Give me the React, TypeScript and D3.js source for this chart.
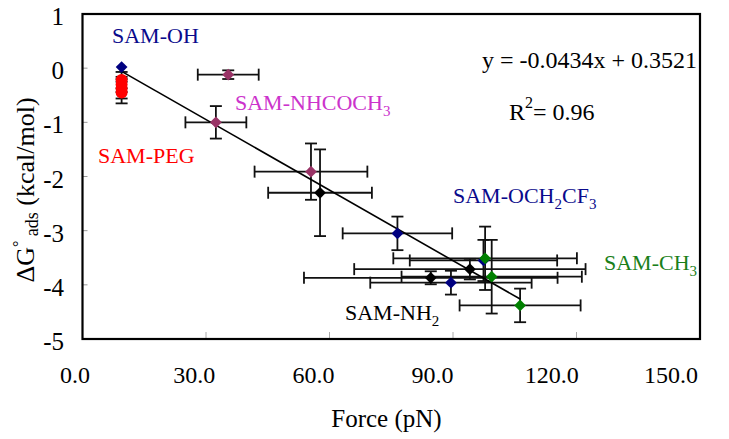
import React from 'react';
import * as d3 from 'd3';

const W = 729;
const H = 439;

const xTickValues = [0, 30, 60, 90, 120, 150];
const yTickValues = [1, 0, -1, -2, -3, -4, -5];

// SAM-OH
const ohX = [9.5];
const ohY = [0.02];
const ohXErr = [0];
const ohYErr = [0];

// SAM-PEG
const pegX = [9.5, 9.5, 9.5, 9.5];
const pegY = [-0.22, -0.3, -0.38, -0.45];
const pegXErr = [0, 0, 0, 0];
const pegYErr = [0.15, 0.14, 0.18, 0.2];

// SAM-NHCOCH3
const nhcoX = [35.4, 32.4, 55.5];
const nhcoY = [-0.12, -1.0, -1.91];
const nhcoXErr = [7.4, 7.4, 13.7];
const nhcoYErr = [0.08, 0.3, 0.52];

// SAM-NH2
const nh2X = [57.7, 84.6, 94.1];
const nh2Y = [-2.3, -3.87, -3.71];
const nh2XErr = [12.6, 30.8, 28.1];
const nh2YErr = [0.8, 0.12, 0.19];

// SAM-OCH2CF3
const cf3X = [76.5, 89.5, 97.4];
const cf3Y = [-3.05, -3.96, -3.55];
const cf3XErr = [13.3, 19.6, 17.9];
const cf3YErr = [0.31, 0.22, 0.38];

// SAM-CH3
const ch3X = [97.8, 99.4, 106.3];
const ch3Y = [-3.51, -3.85, -4.38];
const ch3XErr = [22.3, 21.9, 14.7];
const ch3YErr = [0.585, 0.68, 0.31];

const slope = -0.0434;
const intercept = 0.3521;
const fitRange = [9.5, 106.3];

const FONT = '"Liberation Serif", "Times New Roman", serif';

type Series = {
  name: string;
  xs: number[];
  ys: number[];
  xe: number[];
  ye: number[];
  color: string;
  shape: 'diamond' | 'circle';
};

const series: Series[] = [
  { name: 'PEG', xs: pegX, ys: pegY, xe: pegXErr, ye: pegYErr, color: '#ff0000', shape: 'circle' },
  { name: 'OH', xs: ohX, ys: ohY, xe: ohXErr, ye: ohYErr, color: '#000080', shape: 'diamond' },
  { name: 'NHCOCH3', xs: nhcoX, ys: nhcoY, xe: nhcoXErr, ye: nhcoYErr, color: '#993366', shape: 'diamond' },
  { name: 'NH2', xs: nh2X, ys: nh2Y, xe: nh2XErr, ye: nh2YErr, color: '#000000', shape: 'diamond' },
  { name: 'OCH2CF3', xs: cf3X, ys: cf3Y, xe: cf3XErr, ye: cf3YErr, color: '#000080', shape: 'diamond' },
  { name: 'CH3', xs: ch3X, ys: ch3Y, xe: ch3XErr, ye: ch3YErr, color: '#008000', shape: 'diamond' },
];

export default function App() {
  const left = 82.5;
  const right = 700;
  const top = 14;
  const bottom = 339;
  const x = d3.scaleLinear().domain([0, 150]).range([left, right]);
  const xLabel = d3.scaleLinear().domain([0, 150]).range([75, 671]);
  const y = d3.scaleLinear().domain([-5, 1]).range([bottom, top]);
  const fmtX = d3.format('.1f');
  const cap = 6;
  const ebColor = '#111';
  const line = d3.line<number>().x((d) => x(d)).y((d) => y(slope * d + intercept));
  const diamond = d3.symbol().type(d3.symbolDiamond2).size(88);

  return (
    <svg width={W} height={H} style={{ position: 'absolute', left: 0, top: 0, background: '#fff' }} fontFamily={FONT}>
      <rect x={0} y={0} width={W} height={H} fill="#fff" />
      {/* inner ticks */}
      {yTickValues.map((t) => (
        <line key={'yt' + t} x1={left} x2={left + 5} y1={y(t)} y2={y(t)} stroke="#999" strokeWidth={1} />
      ))}
      {xTickValues.map((t) => (
        <line key={'xt' + t} x1={x(t)} x2={x(t)} y1={bottom} y2={bottom - 7} stroke="#aaa" strokeWidth={1} />
      ))}
      {/* error bars */}
      {series.map((s) =>
        s.xs.map((xv, i) => {
          const yv = s.ys[i];
          const xe = s.xe[i];
          const ye = s.ye[i];
          return (
            <g key={s.name + 'eb' + i} stroke={ebColor} strokeWidth={1.8} fill="none">
              {xe > 0 && (
                <>
                  <line x1={x(xv - xe)} x2={x(xv + xe)} y1={y(yv)} y2={y(yv)} />
                  <line x1={x(xv - xe)} x2={x(xv - xe)} y1={y(yv) - cap} y2={y(yv) + cap} />
                  <line x1={x(xv + xe)} x2={x(xv + xe)} y1={y(yv) - cap} y2={y(yv) + cap} />
                </>
              )}
              {ye > 0 && (
                <>
                  <line x1={x(xv)} x2={x(xv)} y1={y(yv - ye)} y2={y(yv + ye)} />
                  <line x1={x(xv) - cap} x2={x(xv) + cap} y1={y(yv - ye)} y2={y(yv - ye)} />
                  <line x1={x(xv) - cap} x2={x(xv) + cap} y1={y(yv + ye)} y2={y(yv + ye)} />
                </>
              )}
            </g>
          );
        })
      )}
      {/* regression line */}
      <path d={line(fitRange) || ''} stroke="#000" strokeWidth={1.6} fill="none" />
      {/* markers */}
      {series.map((s) =>
        s.xs.map((xv, i) =>
          s.shape === 'circle' ? (
            <circle key={s.name + 'm' + i} cx={x(xv)} cy={y(s.ys[i])} r={6} fill={s.color} />
          ) : (
            <path
              key={s.name + 'm' + i}
              d={diamond() || ''}
              transform={`translate(${x(xv)},${y(s.ys[i])})`}
              fill={s.color}
            />
          )
        )
      )}
      {/* frame */}
      <rect x={left} y={top} width={right - left} height={bottom - top} fill="none" stroke="#000" strokeWidth={2.2} />
      {/* y tick labels */}
      {yTickValues.map((t) => (
        <text key={'yl' + t} x={64} y={y(t) + 11} textAnchor="end" fontSize={25} fill="#000">
          {String(t)}
        </text>
      ))}
      {/* x tick labels */}
      {xTickValues.map((t) => (
        <text key={'xl' + t} x={xLabel(t)} y={383} textAnchor="middle" fontSize={24} fill="#000">
          {fmtX(t)}
        </text>
      ))}
      {/* axis titles */}
      <text x={386.5} y={427} textAnchor="middle" fontSize={25} fill="#000">
        Force (pN)
      </text>
      <text transform="translate(34,190) rotate(-90)" textAnchor="middle" fontSize={26} fill="#000">
        <tspan>ΔG</tspan>
        <tspan fontSize={16} dy={-10}>°</tspan>
        <tspan fontSize={18} dy={14}> ads</tspan>
        <tspan dy={-4}> (kcal/mol)</tspan>
      </text>
      {/* annotations */}
      <text x={697} y={68} textAnchor="end" fontSize={24} fill="#000">y = -0.0434x + 0.3521</text>
      <text x={509} y={120} fontSize={24} fill="#000">
        R<tspan fontSize={16} dy={-12}>2</tspan>
        <tspan dy={12}>= 0.96</tspan>
      </text>
      <text x={112} y={43} fontSize={22} fill="#0a0a8c">SAM-OH</text>
      <text x={98} y={163} fontSize={22} fill="#ff0000">SAM-PEG</text>
      <text x={235} y={110} fontSize={22} fill="#cc33cc">
        SAM-NHCOCH<tspan fontSize={15} dy={6}>3</tspan>
      </text>
      <text x={453} y={203} fontSize={22} fill="#0a0a8c">
        SAM-OCH<tspan fontSize={15} dy={6}>2</tspan>
        <tspan dy={-6}>CF</tspan>
        <tspan fontSize={15} dy={6}>3</tspan>
      </text>
      <text x={604} y={270} fontSize={22} fill="#1a7f1a">
        SAM-CH<tspan fontSize={15} dy={6}>3</tspan>
      </text>
      <text x={345} y={320} fontSize={22} fill="#000">
        SAM-NH<tspan fontSize={15} dy={6}>2</tspan>
      </text>
    </svg>
  );
}
